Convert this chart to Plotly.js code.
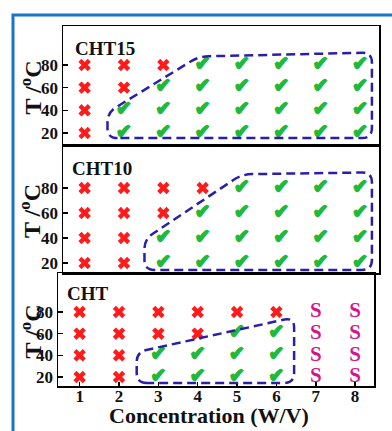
<!DOCTYPE html>
<html>
<head>
<meta charset="utf-8">
<script src="https://cdn.plot.ly/plotly-3.0.1.min.js"></script>
<style>html,body{margin:0;padding:0;background:#fff;}#chart{width:392px;height:431px;}</style>
</head>
<body>
<div id="chart"></div>
<script>
// ---------- data ----------
const concentrations = [1, 2, 3, 4, 5, 6, 7, 8];
const temperatures = [20, 40, 60, 80];
const xTickLabels = ['1', '2', '3', '4', '5', '6', '7', '8'];
const yTickLabels = ['20', '40', '60', '80'];
const panelNames = ['CHT15', 'CHT10', 'CHT'];

// status per temperature row (20,40,60,80) and concentration column (1..8)
// X = no gel, V = gel, S = solution/suspension
const statusCHT15 = [
  ['X', 'V', 'V', 'V', 'V', 'V', 'V', 'V'],
  ['X', 'V', 'V', 'V', 'V', 'V', 'V', 'V'],
  ['X', 'X', 'V', 'V', 'V', 'V', 'V', 'V'],
  ['X', 'X', 'X', 'V', 'V', 'V', 'V', 'V']
];
const statusCHT10 = [
  ['X', 'X', 'V', 'V', 'V', 'V', 'V', 'V'],
  ['X', 'X', 'V', 'V', 'V', 'V', 'V', 'V'],
  ['X', 'X', 'X', 'V', 'V', 'V', 'V', 'V'],
  ['X', 'X', 'X', 'X', 'V', 'V', 'V', 'V']
];
const statusCHT = [
  ['X', 'X', 'V', 'V', 'V', 'V', 'S', 'S'],
  ['X', 'X', 'V', 'V', 'V', 'V', 'S', 'S'],
  ['X', 'X', 'X', 'X', 'V', 'V', 'S', 'S'],
  ['X', 'X', 'X', 'X', 'X', 'X', 'S', 'S']
];

// dashed region outlines (data units)
const regionCHT15X = [1.58, 1.58, 3.9, 8.3, 8.3];
const regionCHT15Y = [15.5, 38, 87.5, 91, 15.5];
const regionCHT10X = [2.52, 2.52, 5.0, 8.3, 8.3];
const regionCHT10Y = [14.5, 39, 91, 92.5, 14.5];
const regionCHTX = [2.45, 2.45, 6.45, 6.45];
const regionCHTY = [14.5, 43, 75, 14.5];

// ---------- layout geometry ----------
const W = 392, H = 431;
const xr = [0.45, 8.48];
const px = (a, b) => [a / W, b / W];
const py = (top, bottom) => [1 - bottom / H, 1 - top / H];
const panels = [
  {status: statusCHT15, rx: regionCHT15X, ry: regionCHT15Y, xa: 'x3', ya: 'y3', xd: [63, 379], yd: [26, 145], yr: [9.4, 114.4], label: panelNames[0], lx: 73, ly: 48},
  {status: statusCHT10, rx: regionCHT10X, ry: regionCHT10Y, xa: 'x2', ya: 'y2', xd: [63, 379], yd: [145, 273], yr: [12, 114.4], label: panelNames[1], lx: 70, ly: 168},
  {status: statusCHT, rx: regionCHTX, ry: regionCHTY, xa: 'x', ya: 'y', xd: [58, 374], yd: [273, 386], yr: [11.7, 116], label: panelNames[2], lx: 65, ly: 293}
];

const RED = '#ff1b1b', GREEN = '#1fba3c', MAG = '#d4158e', DASH = '#2b1fa8';
const thick = c => `1px 0 0 ${c}, -1px 0 0 ${c}, 0 1px 0 ${c}, 0 -1px 0 ${c}`;

const traces = [];
const shapes = [];
const annotations = [];

function roundedPath(xs, ys, sx, sy, r) {
  const n = xs.length;
  let d = '';
  for (let i = 0; i < n; i++) {
    const p = (i - 1 + n) % n, q = (i + 1) % n;
    const vx = xs[i], vy = ys[i];
    const d1x = (xs[p] - vx) * sx, d1y = (ys[p] - vy) * sy;
    const d2x = (xs[q] - vx) * sx, d2y = (ys[q] - vy) * sy;
    const L1 = Math.hypot(d1x, d1y), L2 = Math.hypot(d2x, d2y);
    const c1 = Math.min(r, L1 / 2) / L1, c2 = Math.min(r, L2 / 2) / L2;
    const ax = vx + (xs[p] - vx) * c1, ay = vy + (ys[p] - vy) * c1;
    const bx = vx + (xs[q] - vx) * c2, by = vy + (ys[q] - vy) * c2;
    d += (i === 0 ? 'M' : 'L') + ax + ',' + ay + ' Q' + vx + ',' + vy + ' ' + bx + ',' + by + ' ';
  }
  return d + 'Z';
}

const layout = {
  width: W, height: H,
  margin: {l: 0, r: 0, t: 0, b: 0},
  paper_bgcolor: '#fff', plot_bgcolor: 'rgba(0,0,0,0)',
  showlegend: false,
  shapes: shapes,
  annotations: annotations
};

const tickFont = {family: 'Liberation Serif', size: 17, color: '#111', weight: 'bold'};

panels.forEach((P, k) => {
  const xKey = P.xa === 'x' ? 'xaxis' : 'xaxis' + P.xa.slice(1);
  const yKey = P.ya === 'y' ? 'yaxis' : 'yaxis' + P.ya.slice(1);
  const isBottom = P.xa === 'x';
  layout[xKey] = {
    domain: px(P.xd[0], P.xd[1]), range: xr, anchor: P.ya,
    showgrid: false, zeroline: false, showline: true, mirror: true,
    linecolor: '#000', linewidth: 1.5,
    tickmode: 'array', tickvals: concentrations, ticktext: xTickLabels,
    ticks: isBottom ? 'inside' : '', ticklen: 4, tickcolor: '#000', tickwidth: 1.5,
    showticklabels: isBottom, tickfont: tickFont, ticklabelstandoff: -6
  };
  layout[yKey] = {
    domain: py(P.yd[0], P.yd[1]), range: P.yr, anchor: P.xa,
    showgrid: false, zeroline: false, showline: true, mirror: true,
    linecolor: '#000', linewidth: 1.5,
    tickmode: 'array', tickvals: temperatures, ticktext: yTickLabels,
    ticks: 'inside', ticklen: 5, tickcolor: '#000', tickwidth: 1.5,
    tickfont: tickFont
  };

  const xs = {X: [], V: [], S: []}, ys = {X: [], V: [], S: []};
  P.status.forEach((row, ri) => row.forEach((s, ci) => {
    xs[s].push(concentrations[ci]); ys[s].push(temperatures[ri]);
  }));
  traces.push({type: 'scatter', mode: 'markers', x: xs.X, y: ys.X, xaxis: P.xa, yaxis: P.ya,
    marker: {symbol: 'x', size: 11, color: RED, line: {width: 0}}, hoverinfo: 'skip', cliponaxis: false});
  traces.push({type: 'scatter', mode: 'text', x: xs.V, y: ys.V, xaxis: P.xa, yaxis: P.ya,
    text: xs.V.map(() => '✔'), textposition: 'middle center',
    textfont: {family: 'DejaVu Sans', size: 19, color: GREEN, weight: 'bold', shadow: thick(GREEN)}, hoverinfo: 'skip', cliponaxis: false});
  if (xs.S.length) {
    traces.push({type: 'scatter', mode: 'text', x: xs.S, y: ys.S, xaxis: P.xa, yaxis: P.ya,
      text: xs.S.map(() => 'S'), textposition: 'middle center',
      textfont: {family: 'Liberation Serif', size: 21, color: MAG, weight: 'bold'}, hoverinfo: 'skip', cliponaxis: false});
  }

  const sx = (P.xd[1] - P.xd[0]) / (xr[1] - xr[0]);
  const sy = (P.yd[1] - P.yd[0]) / (P.yr[1] - P.yr[0]);
  shapes.push({type: 'path', xref: P.xa, yref: P.ya, path: roundedPath(P.rx, P.ry, sx, sy, 10),
    line: {color: DASH, width: 2.5, dash: '9px,5px'}, fillcolor: 'rgba(0,0,0,0)'});

  annotations.push({xref: 'paper', yref: 'paper', x: P.lx / W, y: 1 - P.ly / H, xanchor: 'left', yanchor: 'middle',
    text: P.label, showarrow: false, font: {family: 'Liberation Serif', size: 19, color: '#111', weight: 'bold'}});
  annotations.push({xref: 'paper', yref: 'paper', x: 30 / W, y: 1 - ((P.yd[0] + P.yd[1]) / 2 + 2) / H,
    xanchor: 'center', yanchor: 'middle', textangle: -90,
    text: 'T /<sup>o</sup>C', showarrow: false, font: {family: 'Liberation Serif', size: 24, color: '#111', weight: 'bold'}});
});

annotations.push({xref: 'paper', yref: 'paper', x: 209 / W, y: 1 - 415 / H, xanchor: 'center', yanchor: 'middle',
  text: 'Concentration (W/V)', showarrow: false, font: {family: 'Liberation Serif', size: 22, color: '#111', weight: 'bold'}});

// blue outer frame
shapes.push({type: 'rect', xref: 'paper', yref: 'paper', x0: 13 / W, x1: 1.05, y0: -0.05, y1: 1 - 15 / H,
  line: {color: '#1b74c5', width: 3}, fillcolor: 'rgba(0,0,0,0)', layer: 'below'});

Plotly.newPlot('chart', traces, layout, {staticPlot: true, displayModeBar: false});
</script>
</body>
</html>
